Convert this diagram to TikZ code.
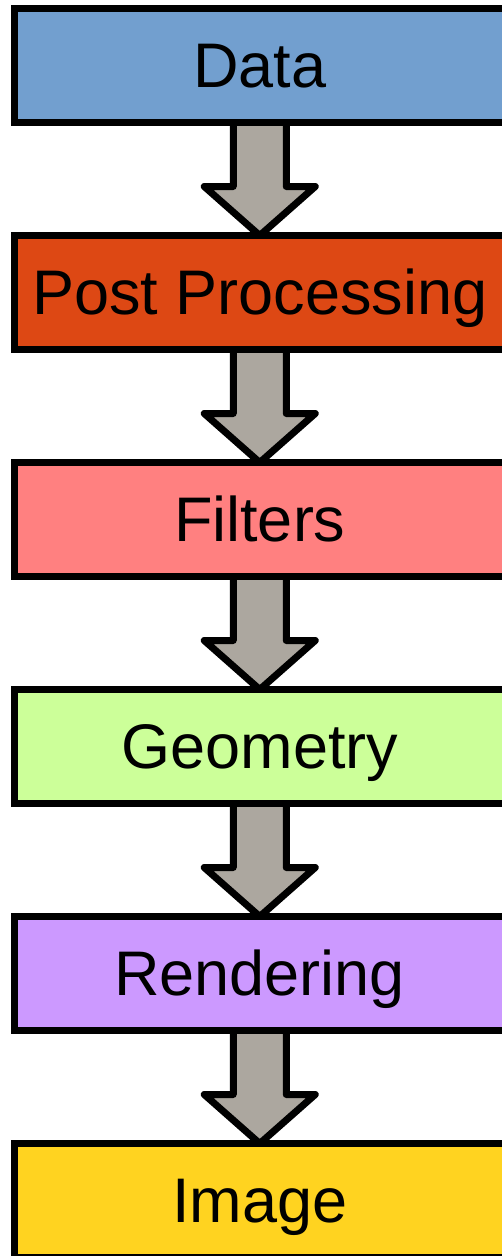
\documentclass[tikz,border=0pt]{standalone}
\usepackage{fontspec}
\setmainfont{Liberation Sans}
\usetikzlibrary{positioning,backgrounds}
\definecolor{dataBlue}{HTML}{729FCF}
\definecolor{postOrange}{HTML}{DD4814}
\definecolor{filterPink}{HTML}{FF8080}
\definecolor{geomGreen}{HTML}{CCFF99}
\definecolor{renderLilac}{HTML}{CC99FF}
\definecolor{imageYellow}{HTML}{FFD320}
\definecolor{arrowGray}{HTML}{ACA79F}

\begin{document}
\begin{tikzpicture}[
  x=1pt,y=1pt,
  every node/.style={font=\fontsize{63}{70}\selectfont},
  stage/.style={draw=black,line width=7pt,minimum width=490.5pt,minimum height=113.5pt,inner sep=0pt,outer sep=0pt,text height=44pt,text depth=0pt},
  flowarr/.style={draw=black,fill=arrowGray,line width=7pt,line join=round}
]
  \useasboundingbox (0,0) rectangle (502,-1256);

  % Pipeline stages, top to bottom.
  \node[stage,fill=dataBlue] (data) at (259.75,-65.25) {Data};
  \node[stage,fill=postOrange,below=113.5pt of data] (post) {Post Processing};
  \node[stage,fill=filterPink,below=113.5pt of post] (filters) {Filters};
  \node[stage,fill=geomGreen,below=113.5pt of filters] (geometry) {Geometry};
  \node[stage,fill=renderLilac,below=113.5pt of geometry] (rendering) {Rendering};
  \node[stage,fill=imageYellow,below=113.5pt of rendering] (image) {Image};

  % Block arrows between stages, kept behind the boxes.
  \begin{scope}[on background layer]
    \foreach \from/\to in {data/post,post/filters,filters/geometry,geometry/rendering,rendering/image} {
      \draw[flowarr] ([xshift=-26.5pt]\from.south) -- ([xshift=-26.5pt,yshift=-64.5pt]\from.south)
        -- ([xshift=-55.5pt,yshift=-64.5pt]\from.south) -- (\to.north)
        -- ([xshift=55.5pt,yshift=-64.5pt]\from.south) -- ([xshift=26.5pt,yshift=-64.5pt]\from.south)
        -- ([xshift=26.5pt]\from.south);
    }
  \end{scope}
\end{tikzpicture}
\end{document}
